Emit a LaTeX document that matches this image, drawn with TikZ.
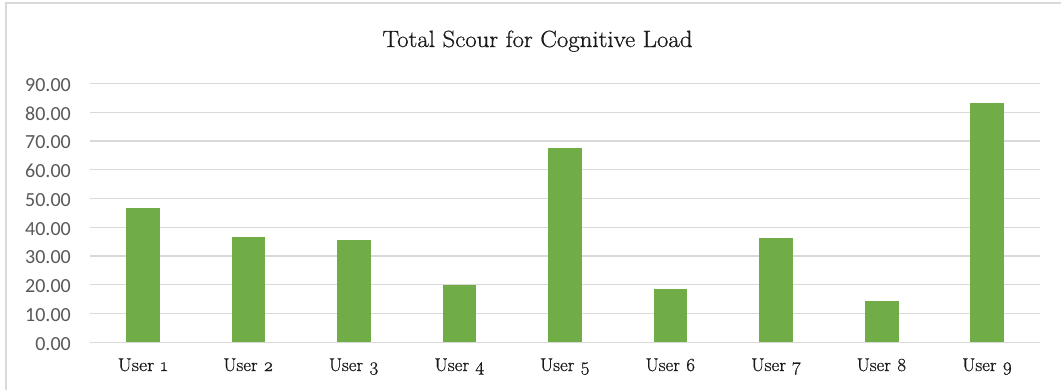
\documentclass[tikz,border=0pt]{standalone}
\usepackage{fontspec}
\setmainfont{Latin Modern Roman}[Numbers=OldStyle, FakeBold=0.7]
\newfontfamily\axisfont{Carlito}
\definecolor{bargreen}{HTML}{70AD47}
\definecolor{gridgray}{HTML}{D9D9D9}
\definecolor{axistext}{HTML}{595959}
\definecolor{titletext}{HTML}{1A1A1A}
\tikzset{
  frame/.style={draw=gridgray, line width=1.5pt},
  gridline/.style={draw=gridgray, line width=1.4pt},
  bar/.style={fill=bargreen, draw=none},
  ylabel/.style={anchor=east, inner sep=0pt, text=axistext,
    font=\axisfont\fontsize{20}{20}\selectfont},
  catlabel/.style={anchor=base, inner sep=0pt, text=titletext,
    font=\fontsize{18.5}{18.5}\selectfont},
  charttitle/.style={anchor=base, inner sep=0pt, text=titletext,
    font=\fontsize{23.5}{23.5}\selectfont}
}
\newcommand{\wide}[2]{\resizebox{#1pt}{\height}{#2}}
\begin{document}
\begin{tikzpicture}[x=1pt,y=-1pt]
  \useasboundingbox (0,0) rectangle (1061,389);
  \fill[white] (0,0) rectangle (1061,389);
  % chart frame, running off the right and bottom edges
  \begin{scope}
    \clip (0,0) rectangle (1061,389);
    \draw[frame] (6,3) rectangle (1075,400);
  \end{scope}
  % title
  \node[charttitle] (title) at (537.5,47) {\wide{310}{Total Scour for Cognitive Load}};
  % horizontal gridlines and value axis labels (0 at y=342.3, 28.76 px per 10)
  \foreach \v [count=\i from 0] in {0.00,10.00,20.00,30.00,40.00,50.00,60.00,70.00,80.00,90.00} {
    \pgfmathsetmacro{\yy}{342.3-28.76*\i}
    \coordinate (gl\i) at (90,\yy);
    \coordinate (gr\i) at (1040,\yy);
    \draw[gridline] (gl\i) -- (gr\i);
    \node[ylabel] (y\i) at (71,\yy+1.5) {\v};
  }
  % bars and category labels
  \foreach \val [count=\i] in {46.8,36.6,35.6,19.9,67.7,18.5,36.3,14.4,83.2} {
    \pgfmathsetmacro{\cx}{90+105.56*(\i-0.5)}
    \pgfmathsetmacro{\top}{342.3-2.876*\val}
    \fill[bar] (\cx-16.8,342.3) rectangle (\cx+16.8,\top);
    \node[catlabel] (c\i) at (\cx,371) {\wide{50}{User \i}};
  }
\end{tikzpicture}
\end{document}
